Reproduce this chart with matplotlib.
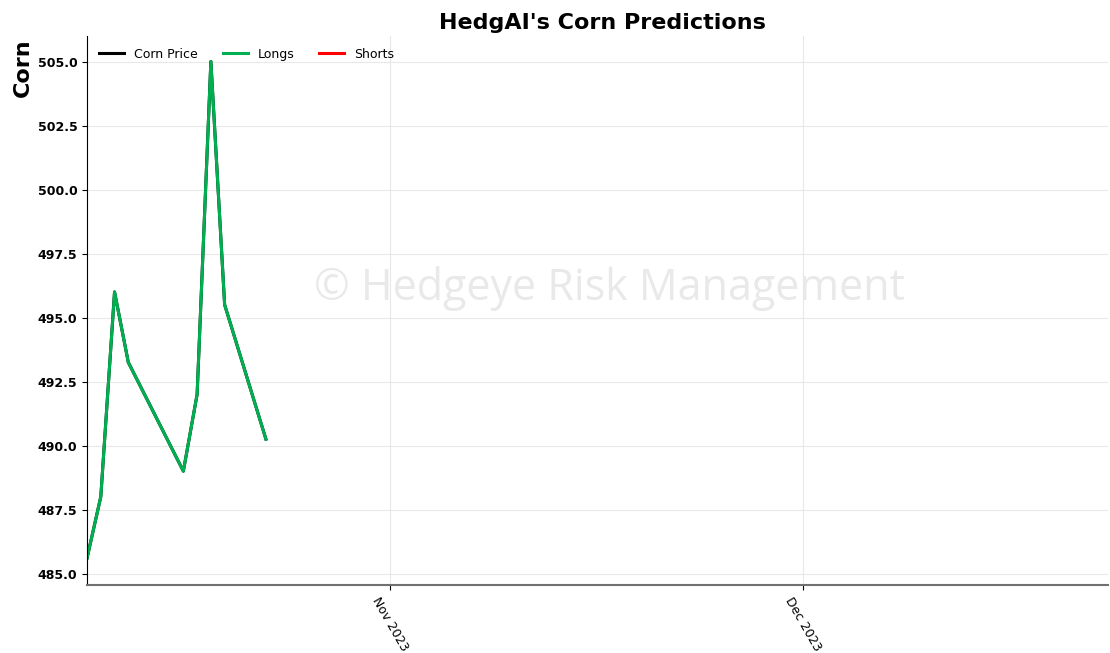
import numpy as np
import pandas as pd
import matplotlib
matplotlib.use("Agg")
import matplotlib.pyplot as plt
import matplotlib.dates as mdates

# data
dates = pd.to_datetime(["2023-10-10", "2023-10-11", "2023-10-12", "2023-10-13",
                        "2023-10-17", "2023-10-18", "2023-10-19", "2023-10-20",
                        "2023-10-23"])
corn_price = [485.6, 488.0, 496.0, 493.25, 489.0, 492.0, 505.0, 495.5, 490.25]
longs = [485.6, 488.0, 496.0, 493.25, 489.0, 492.0, 505.0, 495.5, 490.25]
shorts_dates = pd.to_datetime([])
shorts = []

title = "HedgAI's Corn Predictions"
ylabel = "Corn"
watermark = "\u00a9 Hedgeye Risk Management"

fig = plt.figure(figsize=(11.1, 6.53), dpi=100)
ax = fig.add_axes([0.0784, 0.104, 0.92, 0.841])

ax.plot(dates, corn_price, color="black", lw=2.2, label="Corn Price")
ax.plot(dates, longs, color="#00b050", lw=2.2, label="Longs")
ax.plot(shorts_dates, shorts, color="red", lw=2.2, label="Shorts")

ax.set_xlim(pd.Timestamp("2023-10-10"), pd.Timestamp("2023-12-23 05:00"))
ax.set_ylim(484.55, 506.0)
ax.set_yticks(np.arange(485, 505.1, 2.5))
ax.yaxis.set_major_formatter(matplotlib.ticker.FormatStrFormatter("%.1f"))
ax.xaxis.set_major_locator(mdates.MonthLocator())
ax.xaxis.set_major_formatter(mdates.DateFormatter("%b %Y"))

ax.tick_params(axis="y", labelsize=9)
ax.tick_params(axis="x", labelsize=9)
for lab in ax.get_yticklabels():
    lab.set_fontweight("bold")
plt.setp(ax.get_xticklabels(), rotation=-60)

ax.grid(True, color="#e8e8e8", lw=0.8)
ax.set_axisbelow(True)
ax.spines["top"].set_visible(False)
ax.spines["right"].set_visible(False)
ax.spines["bottom"].set_color("#707070")
ax.spines["bottom"].set_linewidth(1.5)
ax.spines["left"].set_color("black")

ax.set_title(title, fontsize=16, fontweight="bold", pad=5, x=0.505)
ax.set_ylabel(ylabel, fontsize=16, fontweight="bold")
ax.yaxis.set_label_coords(-0.053, 0.943)

ax.text(0.512, 0.54, watermark, transform=ax.transAxes, ha="center", va="center",
        fontsize=31, color="#e2e2e2", alpha=0.75, family="Open Sans", zorder=0)

ax.legend(loc="upper left", ncol=3, frameon=False, fontsize=9,
          handlelength=2, handletextpad=0.8, columnspacing=2.0, borderaxespad=0.55)

fig.savefig("out.png", dpi=100)
